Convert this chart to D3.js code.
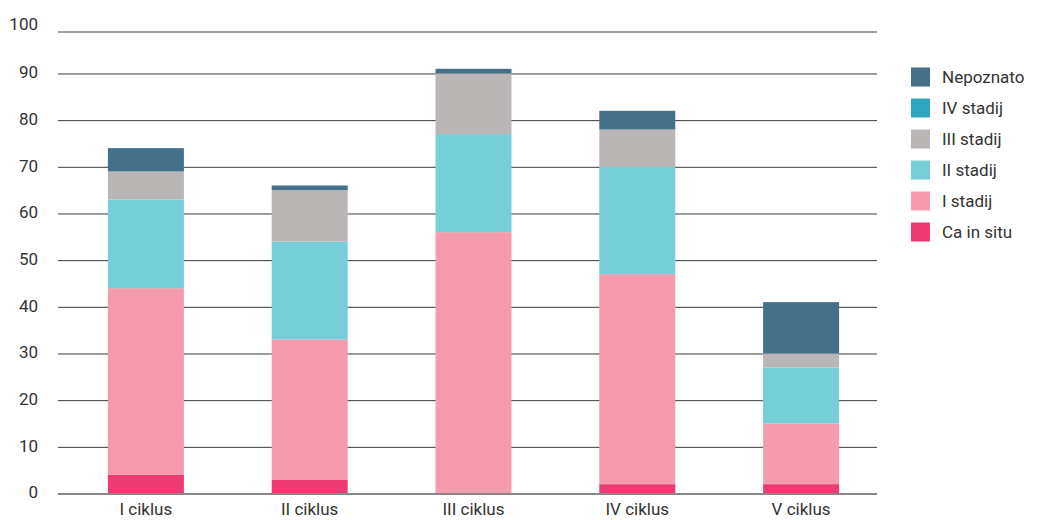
<!DOCTYPE html>
<html><head><meta charset="utf-8">
<script src="https://cdn.jsdelivr.net/npm/d3@7"></script>
<style>body{margin:0;background:#fff;} text{font-family:Roboto, "Noto Sans", sans-serif;}</style>
</head><body>
<svg id="chart" width="1044" height="520"></svg>
<script>
const categories = ["I ciklus", "II ciklus", "III ciklus", "IV ciklus", "V ciklus"];
const seriesNames = ["Ca in situ", "I stadij", "II stadij", "III stadij", "IV stadij", "Nepoznato"];
const caInSitu  = [4, 3, 0, 2, 2];
const stadij1   = [40, 30, 56, 45, 13];
const stadij2   = [19, 21, 21, 23, 12];
const stadij3   = [6, 11, 13, 8, 3];
const stadij4   = [0, 0, 0, 0, 0];
const nepoznato = [5, 1, 1, 4, 11];
const yTicks = [0, 10, 20, 30, 40, 50, 60, 70, 80, 90, 100];
const colors = ["#ee3b73", "#f49cae", "#76ced9", "#bab6b5", "#2ea6bf", "#466f8a"];

const seriesValues = [caInSitu, stadij1, stadij2, stadij3, stadij4, nepoznato];
const rows = categories.map((c, i) => {
  const r = {cat: c};
  seriesNames.forEach((s, j) => r[s] = seriesValues[j][i]);
  return r;
});
const stack = d3.stack().keys(seriesNames)(rows);

const svg = d3.select("#chart");
const gridX0 = 58, gridX1 = 877, plotTop = 31.5;
const y = d3.scaleLinear().domain([0, 100]).range([493.5, 26.8]);
const x = d3.scaleBand().domain(categories).range([64, 883]).paddingInner(0.536).paddingOuter(0.268);

// grid
svg.append("g").selectAll("line").data(yTicks.filter(d => d > 0)).join("line")
  .attr("x1", gridX0).attr("x2", gridX1)
  .attr("y1", d => Math.max(y(d), plotTop) + 0.5).attr("y2", d => Math.max(y(d), plotTop) + 0.5)
  .attr("stroke", "#3a3a3a").attr("stroke-width", 1);

// y labels
svg.append("g").selectAll("text").data(yTicks).join("text")
  .attr("x", 38).attr("y", d => d === 100 ? y(d) - 3 : y(d) - 1).attr("dy", "0.35em")
  .attr("text-anchor", "end").attr("font-size", 17).attr("fill", "#333")
  .text(d => d);

// bars
svg.append("g").selectAll("g").data(stack).join("g")
  .attr("fill", (d, i) => colors[i])
  .selectAll("rect").data(d => d).join("rect")
  .attr("x", d => x(d.data.cat))
  .attr("width", x.bandwidth())
  .attr("y", d => y(d[1]))
  .attr("height", d => y(d[0]) - y(d[1]));

// baseline
svg.append("line").attr("x1", gridX0).attr("x2", gridX1)
  .attr("y1", y(0) + 0.5).attr("y2", y(0) + 0.5)
  .attr("stroke", "#888").attr("stroke-width", 2);

// x labels
svg.append("g").selectAll("text").data(categories).join("text")
  .attr("x", d => x(d) + x.bandwidth() / 2).attr("y", 509).attr("dy", "0.35em")
  .attr("text-anchor", "middle").attr("font-size", 17).attr("fill", "#333")
  .text(d => d);

// legend
const legendOrder = seriesNames.slice().reverse();
const lg = svg.append("g").selectAll("g").data(legendOrder).join("g")
  .attr("transform", (d, i) => `translate(911, ${67.5 + i * 31})`);
lg.append("rect").attr("width", 19).attr("height", 19)
  .attr("fill", d => colors[seriesNames.indexOf(d)]);
lg.append("text").attr("x", 31).attr("y", 10).attr("dy", "0.35em")
  .attr("font-size", 17).attr("fill", "#333").text(d => d);
</script>
</body></html>
